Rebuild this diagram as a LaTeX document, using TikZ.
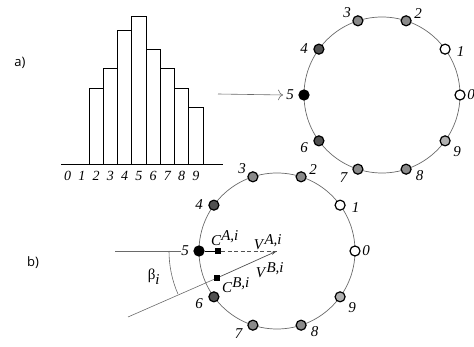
\documentclass[tikz,border=0pt]{standalone}
\usepackage{fontspec}
\setmainfont{Liberation Serif}
\newfontfamily\tagfont{Open Sans}
\usetikzlibrary{arrows.meta,calc}
\definecolor{ringgray}{HTML}{6A6A6A}
\definecolor{midgray}{HTML}{8A8A8A}
\definecolor{darkgray}{HTML}{505050}
\definecolor{lightgray}{HTML}{B0B0B0}
\tikzset{
  site/.style={circle,draw=black,line width=1.2pt,fill=#1,minimum size=10pt,inner sep=0pt},
  site/.default=white,
  num/.style={font=\itshape\fontsize{15}{15}\selectfont,inner sep=0pt},
  tick/.style={font=\itshape\fontsize{14}{14}\selectfont,inner sep=0pt},
  ring/.style={draw=ringgray,line width=0.7pt},
  bar/.style={draw=black,line width=0.8pt,fill=white},
  thin/.style={draw=ringgray,line width=0.6pt},
  centremark/.style={fill=black,minimum size=6pt,inner sep=0pt},
  vlabel/.style={font=\fontsize{15}{15}\selectfont,inner sep=0pt},
  tag/.style={font=\tagfont\fontsize{13}{13}\selectfont,inner sep=0pt},
}
\begin{document}
\begin{tikzpicture}[x=1pt,y=1pt]
  \useasboundingbox (0,0) rectangle (474,-347);
  \node[tag] (taga) at (20,-63) {a)};
  \node[tag] (tagb) at (33,-263) {b)};
  \draw[line width=0.8pt] (61,-164) -- (223,-164);
  \foreach \k/\h in {2/88,3/68,4/30,5/16,6/49,7/68,8/88,9/107}{
    \draw[bar] ({89+(\k-2)*14.25},-164) rectangle ({89+(\k-1)*14.25},-\h);
  }
  \foreach \k in {0,...,9}{
    \node[tick] (x\k) at ({67.5+\k*14.25},-176) {\k};
  }
  \coordinate (tc) at (382,-95);
  \coordinate (bc) at (277,-251);
  \draw[ring] (tc) circle[radius=78];
  \draw[ring] (bc) circle[radius=78];
  \foreach \c in {t,b}{
    \foreach \k/\col/\la/\lr in {0/white/0/89,1/white/29/90,2/midgray/66/89,3/midgray/113/89,4/darkgray/149/91,
                             5/black/180/92,6/darkgray/214/94,7/midgray/245/91,8/midgray/295/89,9/lightgray/323/94}{
      \node[site=\col] (\c\k) at ($(\c c)+(\k*36:78)$) {};
      \node[num] (\c\k lab) at ($(\c c)+(\la:\lr)$) {\k};
    }
  }
  \coordinate (src) at (218,-94);
  \draw[thin,-{To[length=5pt]}] (src) -- ([xshift=-3pt]t5lab.west);
  \coordinate (hl) at (115,-251);
  \coordinate (sl) at (128,-317);
  \node[centremark] (ca) at (218,-251) {};
  \node[centremark] (cb) at (217,-278) {};
  \draw[thin] (hl) -- (b5lab.west);
  \draw[line width=0.7pt] (b5) -- (ca);
  \draw[line width=0.7pt,dash pattern=on 4pt off 2.5pt,darkgray] (ca) -- (bc);
  \draw[thin] (sl) -- (cb);
  \draw[line width=0.7pt,darkgray,-{Stealth[length=6pt,width=3pt]}] (cb) -- (bc);
  \draw[thin] ($(bc)+(180:108)$) arc[start angle=180,end angle=203.5,radius=108];
  \node[vlabel] (lca) at (225,-238) {\textit{C}$^{\textit{A,i}}$};
  \node[vlabel] (lcb) at (236,-285) {\textit{C}$^{\textit{B,i}}$};
  \node[vlabel] (lva) at (268,-242) {\textit{V}$^{\textit{A,i}}$};
  \node[vlabel] (lvb) at (270,-270) {\textit{V}$^{\textit{B,i}}$};
  \node[vlabel] (beta) at (154,-277) {β$_{\textit{i}}$};
\end{tikzpicture}
\end{document}
